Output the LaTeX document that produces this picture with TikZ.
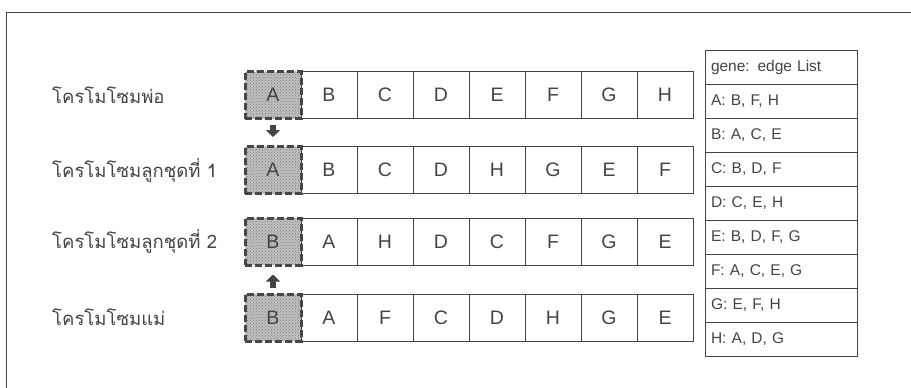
\documentclass[tikz,border=0pt]{standalone}
\usepackage{fontspec}
\setmainfont{Liberation Sans}
\newfontfamily\thaifont[Script=Thai]{Loma}
\usetikzlibrary{arrows.meta,patterns}
\definecolor{ink}{HTML}{444444}
\tikzset{
  cell/.style={draw=ink, line width=0.8pt, minimum width=56pt, minimum height=47pt, inner sep=0pt, text=ink, font=\fontsize{19.5}{20}\selectfont},
  keycell/.style={cell, preaction={fill=black!25}, pattern=crosshatch dots, pattern color=black!50, draw=black!72, line width=3pt, dash pattern=on 7pt off 3pt},
  rowlabel/.style={anchor=west, inner sep=0pt, text=ink, font=\thaifont\fontsize{18.5}{18.5}\selectfont},
  tabcell/.style={draw=ink, line width=0.8pt, minimum width=152pt, minimum height=34pt, inner sep=0pt, text=ink, font=\fontsize{15.5}{16}\selectfont, text width=140pt, align=left},
  blockarrow/.style={draw=ink, line width=5.5pt, -{Triangle[width=14pt,length=7pt]}},
  frame/.style={draw=ink, line width=1pt}
}
\begin{document}
\begin{tikzpicture}[x=1pt,y=-1pt]
\useasboundingbox (0,0) rectangle (911,388);
\coordinate (ftl) at (6,12);
\coordinate (ftr) at (911,12);
\coordinate (fbl) at (6,388);
\draw[frame] (ftr) -- (ftl) -- (fbl);

% row labels
\node[rowlabel] (lp) at (52,95) {โครโมโซมพ่อ};
\node[rowlabel] (lc1) at (52,170) {โครโมโซมลูกชุดที่ 1};
\node[rowlabel] (lc2) at (52,241.5) {โครโมโซมลูกชุดที่ 2};
\node[rowlabel] (lm) at (52,317.5) {โครโมโซมแม่};

% chromosomes
\foreach \r/\y/\first/\rest in {p/95/A/{B,C,D,E,F,G,H}, c1/170/A/{B,C,D,H,G,E,F}, c2/241.5/B/{A,H,D,C,F,G,E}, m/317.5/B/{A,F,C,D,H,G,E}}{
  \node[keycell] (\r0) at (273,\y) {\first};
  \foreach \g [count=\i] in \rest {
    \node[cell] (\r\i) at (273+56*\i,\y) {\g};
  }
}

% arrows between key genes
\draw[blockarrow, shorten <=5pt, shorten >=8pt] (p0.south) -- (c10.north);
\draw[blockarrow, shorten <=5pt, shorten >=8pt] (m0.north) -- (c20.south);

% edge list table
\foreach \t [count=\i from 0] in {{gene: edge List}, {A: B, F, H}, {B: A, C, E}, {C: B, D, F}, {D: C, E, H}, {E: B, D, F, G}, {F: A, C, E, G}, {G: E, F, H}, {H: A, D, G}}{
  \node[tabcell] (t\i) at (781,67+34*\i) {\t};
}
\end{tikzpicture}
\end{document}
